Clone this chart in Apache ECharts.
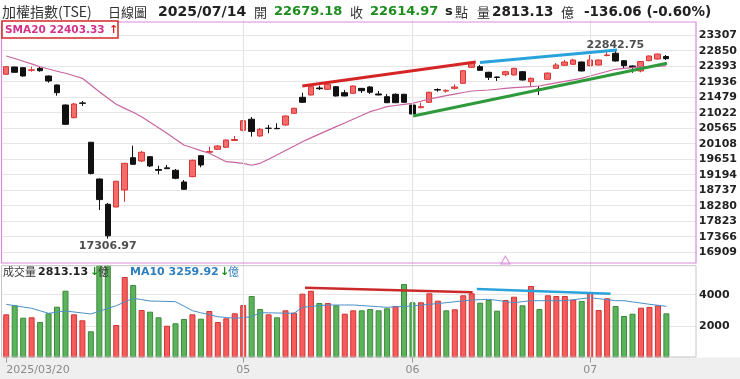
<!DOCTYPE html>
<html><head><meta charset="utf-8">
<script src="https://cdn.jsdelivr.net/npm/echarts@6/dist/echarts.min.js"></script>
<style>html,body{margin:0;padding:0;background:#fff}#c{width:740px;height:379px}</style>
</head><body><div id="c"></div>
<script>
// ---------- data ----------
const dates = [
 '2025/03/20','2025/03/21','2025/03/24','2025/03/25','2025/03/26','2025/03/27','2025/03/28','2025/03/31',
 '2025/04/01','2025/04/02','2025/04/07','2025/04/08','2025/04/09','2025/04/10','2025/04/11','2025/04/14',
 '2025/04/15','2025/04/16','2025/04/17','2025/04/18','2025/04/21','2025/04/22','2025/04/23','2025/04/24',
 '2025/04/25','2025/04/28','2025/04/29','2025/04/30',
 '2025/05/02','2025/05/05','2025/05/06','2025/05/07','2025/05/08','2025/05/09','2025/05/12','2025/05/13',
 '2025/05/14','2025/05/15','2025/05/16','2025/05/19','2025/05/20','2025/05/21','2025/05/22','2025/05/23',
 '2025/05/26','2025/05/27','2025/05/28','2025/05/29',
 '2025/06/02','2025/06/03','2025/06/04','2025/06/05','2025/06/06','2025/06/09','2025/06/10','2025/06/11',
 '2025/06/12','2025/06/13','2025/06/16','2025/06/17','2025/06/18','2025/06/19','2025/06/20','2025/06/23',
 '2025/06/24','2025/06/25','2025/06/26','2025/06/27','2025/06/30',
 '2025/07/01','2025/07/02','2025/07/03','2025/07/04','2025/07/07','2025/07/08','2025/07/09','2025/07/10',
 '2025/07/11','2025/07/14'
];
const opens = [22154,22369,22349,22270,22331,22104,21839,21249,20875,21310,20150,19068,18322,18242,18743,19696,
 19598,19725,19348,19396,19324,18979,19136,19755,19855,19943,20002,20203,20503,20830,20335,20565,20560,20660,
 21004,21476,21544,21750,21712,21789,21612,21594,21740,21780,21574,21494,21565,21565,21249,21170,21329,21705,
 21660,21740,21889,22360,22378,22213,22075,22143,22134,22231,21936,21720,22007,22331,22420,22449,22517,22408,
 22428,22705,22774,22555,22400,22252,22555,22605,22679.18];
const closes = [22378,22213,22104,22285,22260,21957,21612,20680,21279,21298,19232,18460,17392,19000,19529,19501,
 19855,19451,19322,19372,19088,18764,19619,19480,19880,20040,20217,20232,20786,20470,20533,20560,20550,20925,
 21152,21329,21789,21730,21860,21515,21515,21810,21670,21624,21545,21317,21317,21329,20984,21200,21624,21690,
 21680,21780,22260,22480,22272,22066,22060,22230,22330,21986,22036,21700,22190,22428,22517,22575,22252,22575,
 22575,22725,22546,22408,22355,22530,22694,22751.03,22614.97];
const lows = [22140,22200,22090,22231,22231,21907,21523,20670,20860,21220,19200,18154,17306.97,18230,18399,19480,
 19570,19420,19206,19360,19060,18750,19120,19413,19845,19930,19990,20195,20490,20315,20310,20415,20540,20640,
 20990,21310,21530,21691,21700,21500,21505,21580,21603,21574,21535,21305,21305,21315,20940,21150,21315,21641,
 21612,21700,21875,22340,22260,21986,21957,22100,22120,21970,21790,21544,21995,22310,22405,22435,22240,22395,
 22415,22690,22530,22330,22200,22213,22540,22590,22575];
const highs = [22395,22380,22360,22378,22378,22119,21854,21265,21308,21367,20160,19080,18360,19010,19540,20050,
 19893,19740,19460,19481,19363,19038,19640,19770,20020,20070,20230,20335,20800,20895,20572,20660,20710,20940,
 21165,21612,21800,21818,21898,21800,21691,21825,21750,21810,21662,21574,21594,21580,21260,21320,21641,21741,
 21712,21860,22275,22520,22430,22230,22090,22260,22345,22245,22060,21810,22205,22488,22575,22614,22530,22723,
 22590,22810,22842.75,22570,22415,22545,22710,22765,22723];
const ma20 = [22694,22620,22540,22460,22378,22310,22245,22184,22110,22036,21840,21641,21455,21270,21150,21034,
 20904,20740,20580,20415,20240,20070,19990,19905,19825,19700,19578,19555,19530,19472,19530,19650,19775,19905,
 20035,20167,20280,20390,20500,20610,20720,20830,20940,21052,21125,21199,21235,21270,21299,21360,21420,21476,
 21523,21570,21617,21662,21677,21691,21714,21737,21759,21776,21793,21809,21855,21900,21945,21990,22036,22103,
 22170,22236,22302,22327,22352,22378,22386,22395,22403.33];
const volumes = [2750,3325,2535,2560,2260,2815,3235,4255,2750,2370,1670,6300,6400,2070,5128,4618,3026,2918,2560,
 2026,2178,2452,2750,2472,2962,2260,2497,2815,3335,3918,3090,2750,2560,3005,2855,4065,4255,3470,3470,3325,2790,
 3005,3005,3090,3005,3134,3280,4682,3516,3516,4090,3618,3005,3070,3962,4090,3490,3663,2981,3663,3873,3325,4555,
 3090,3962,3918,3918,3682,3600,4090,3026,3771,3280,2644,2790,3172,3217,3325,2813.13];
// 1 = red bar, 0 = green bar (as coloured in the picture)
const volRed = [1,0,0,1,0,0,0,0,1,1,0,0,0,1,1,0,1,0,0,1,0,0,1,0,1,1,1,1,1,0,0,1,0,1,1,1,1,0,1,0,1,1,0,0,0,0,1,0,
 0,1,1,1,0,1,1,1,0,0,0,1,1,0,1,0,1,1,1,1,0,1,1,1,0,0,0,1,1,1,0];
const ma10 = [3389,3300,3215,3134,2975,2815,2890,2962,2900,2835,2771,2950,3125,3300,3535,3771,3685,3599,3585,3570,
 3554,3270,2981,2850,2725,2599,2550,2497,2540,2599,2854,2845,2835,2825,2815,3198,3250,3300,3344,3344,3344,3344,
 3310,3270,3235,3198,3225,3255,3281,3335,3385,3440,3491,3550,3605,3663,3685,3707,3640,3565,3491,3555,3618,3618,
 3618,3618,3618,3680,3745,3809,3745,3680,3618,3618,3540,3465,3389,3325,3259.92];
const xTickLabels = {'2025/03/20':'2025/03/20','2025/05/02':'05','2025/06/02':'06','2025/07/01':'07'};
const monthLines = ['2025/05/02','2025/06/02','2025/07/01'];
const priceAxis = {min:16452, max:23764, interval:457};
const volAxis = {min:0, max:5847, interval:2000};
// trend lines: [dayIndex, value]
const priceTrends = [
 {color:'#d42424', pts:[[35,21809],[55.5,22517]]},
 {color:'#2aa3dc', pts:[[56,22502],[72.2,22870]]},
 {color:'#2e9a3c', pts:[[48.1,20924],[78.1,22480]]}
];
const volTrends = [
 {color:'#cc2a2a', pts:[[35.3,4446],[55.1,4153]]},
 {color:'#2aa3dc', pts:[[55.6,4363],[71.4,4064]]}
];
const markerTriangle = [[59,16680]];
const pad = ['+1','+2','+3'];

// ---------- build ----------
const cats = dates.concat(pad);
const N = dates.length;
const last = N - 1;
const candle = dates.map((d,i)=>[opens[i],closes[i],lows[i],highs[i]]);
let minI = 0, maxI = 0;
lows.forEach((v,i)=>{ if(v<lows[minI]) minI=i; });
highs.forEach((v,i)=>{ if(v>highs[maxI]) maxI=i; });
const volData = volumes.map((v,i)=>({value:v, itemStyle: volRed[i]
  ? {color:'#f65c5c', borderColor:'#cf3434', borderWidth:1}
  : {color:'#5cb35c', borderColor:'#3b8a3b', borderWidth:1}}));
const showIdx = (i)=> xTickLabels[cats[i]] !== undefined;
const chg = closes[last]-closes[last-1];
const chgPct = chg/closes[last-1]*100;

const CJK = '"Noto Sans CJK TC"';
const DV = '"DejaVu Sans"';
function T(x,y,text,font,fill){
  return {type:'text', x:x, y:y, z:200, silent:true,
    style:{text:text, font:font, fill:fill, verticalAlign:'middle', align:'left'}};
}
const plain = (v)=>String(Math.round(v));

const option = {
  animation:false,
  backgroundColor:'#ffffff',
  grid:[
    {left:2, right:44, top:19.7, height:248},
    {left:2, right:44, top:265.7, height:91.8}
  ],
  xAxis:[
    {type:'category', gridIndex:0, data:cats, boundaryGap:true,
      axisLine:{show:false}, axisTick:{show:false}, axisLabel:{show:false}, splitLine:{show:false}},
    {type:'category', gridIndex:1, data:cats, boundaryGap:true,
      axisLine:{show:false},
      axisTick:{show:true, alignWithLabel:true, interval:(i)=>showIdx(i), length:5, lineStyle:{color:'#999'}},
      axisLabel:{show:true, interval:(i)=>showIdx(i), formatter:(v)=>xTickLabels[v]||'',
        color:'#8a8a8a', fontSize:11, fontFamily:'DejaVu Sans', margin:7, alignMinLabel:'left'},
      splitLine:{show:false}},
    {type:'value', gridIndex:0, min:-0.5, max:cats.length-0.5, show:false},
    {type:'value', gridIndex:1, min:-0.5, max:cats.length-0.5, show:false}
  ],
  yAxis:[
    {type:'value', gridIndex:0, position:'right', min:priceAxis.min, max:priceAxis.max, interval:priceAxis.interval,
      axisLine:{show:false}, axisTick:{show:false},
      axisLabel:{showMinLabel:false, showMaxLabel:false, color:'#222', fontSize:11, fontWeight:'bold',
        fontFamily:'DejaVu Sans', margin:3, formatter:plain},
      splitLine:{show:true, showMinLine:false, showMaxLine:false, lineStyle:{color:'#e6e6e6', width:1}}},
    {type:'value', gridIndex:1, position:'right', min:volAxis.min, max:volAxis.max, interval:volAxis.interval,
      axisLine:{show:false}, axisTick:{show:false},
      axisLabel:{showMinLabel:false, showMaxLabel:false, color:'#222', fontSize:11, fontWeight:'bold',
        fontFamily:'DejaVu Sans', margin:3, formatter:plain},
      splitLine:{show:true, showMinLine:false, showMaxLine:false, lineStyle:{color:'#e6e6e6', width:1}}}
  ],
  series:[
    {type:'line', xAxisIndex:0, yAxisIndex:0, data:[], z:1, silent:true,
      markLine:{silent:true, symbol:'none', label:{show:false}, animation:false,
        lineStyle:{color:'#e2e2e2', width:1, type:'solid'}, data:monthLines.map(d=>({xAxis:d}))}},
    {type:'line', xAxisIndex:1, yAxisIndex:1, data:[], z:1, silent:true,
      markLine:{silent:true, symbol:'none', label:{show:false}, animation:false,
        lineStyle:{color:'#e2e2e2', width:1, type:'solid'}, data:monthLines.map(d=>({xAxis:d}))}},
    {type:'candlestick', xAxisIndex:0, yAxisIndex:0, data:candle, barWidth:6, z:3,
      itemStyle:{color:'#f46b6b', color0:'#111111', borderColor:'#d93434', borderColor0:'#111111', borderWidth:1}},
    {type:'line', xAxisIndex:0, yAxisIndex:0, data:ma20, symbol:'none', z:4, silent:true,
      lineStyle:{color:'#c8649e', width:1.2}},
    ...priceTrends.map(t=>({type:'line', xAxisIndex:2, yAxisIndex:0, data:t.pts, symbol:'none', z:5, silent:true,
      lineStyle:{color:t.color, width:3}})),
    {type:'scatter', xAxisIndex:2, yAxisIndex:0, symbolSize:1, z:6, silent:true,
      itemStyle:{color:'rgba(0,0,0,0)'},
      data:[{value:[minI, lows[minI]], label:{position:'bottom', distance:1}},
            {value:[maxI, highs[maxI]], label:{position:'top', distance:0}}],
      label:{show:true, formatter:(p)=>p.value[1].toFixed(2), color:'#222', fontSize:11, fontWeight:'bold',
        fontFamily:'DejaVu Sans'}},
    {type:'scatter', xAxisIndex:2, yAxisIndex:0, symbol:'triangle', symbolSize:[9,8], z:6, silent:true,
      itemStyle:{color:'#ffffff', borderColor:'#d27ad2', borderWidth:1}, data:markerTriangle},
    {type:'bar', xAxisIndex:1, yAxisIndex:1, data:volData, barWidth:6, clip:true, z:3},
    {type:'line', xAxisIndex:1, yAxisIndex:1, data:ma10, symbol:'none', z:4, silent:true,
      lineStyle:{color:'#4a8fc8', width:1}},
    ...volTrends.map(t=>({type:'line', xAxisIndex:3, yAxisIndex:1, data:t.pts, symbol:'none', z:5, silent:true,
      lineStyle:{color:t.color, width:2.5}}))
  ],
  graphic:[
    {type:'rect', z:-10, silent:true, shape:{x:0, y:357.5, width:740, height:22}, style:{fill:'#efefef'}},
    {type:'rect', z:150, silent:true, shape:{x:1.5, y:22, width:694.5, height:241}, style:{fill:'none', stroke:'#d98ad9', lineWidth:1.2}},
    {type:'rect', z:150, silent:true, shape:{x:1.5, y:265.7, width:694.5, height:91.3}, style:{fill:'none', stroke:'#c6c6c6', lineWidth:1}},
    {type:'rect', z:160, silent:true, shape:{x:2, y:21, width:116, height:17}, style:{fill:'#ffffff', stroke:'#d42a2a', lineWidth:1.5}},
    T(5, 30, 'SMA20 ' + ma20[last].toFixed(2), 'bold 10.5px '+DV, '#d4318a'),
    T(109, 30, '↑', 'bold 11px '+DV, '#e02020'),
    // header
    T(2, 12, '加權指數(TSE)', '14px '+CJK, '#333'),
    T(108, 12, '日線圖', '13px '+CJK, '#333'),
    T(158, 12, dates[last], 'bold 14px '+DV, '#222'),
    T(254, 12, '開', '13px '+CJK, '#333'),
    T(274, 12, opens[last].toFixed(2), 'bold 13px '+DV, '#1e8c1e'),
    T(350, 12, '收', '13px '+CJK, '#333'),
    T(370, 12, closes[last].toFixed(2), 'bold 13px '+DV, '#1e8c1e'),
    T(445, 12, 's', 'bold 13px '+DV, '#222'),
    T(455, 12, '點', '13px '+CJK, '#333'),
    T(477, 12, '量', '13px '+CJK, '#333'),
    T(492, 12, volumes[last].toFixed(2), 'bold 13.5px '+DV, '#222'),
    T(561, 12, '億', '13px '+CJK, '#333'),
    T(584, 12, chg.toFixed(2) + ' (' + chgPct.toFixed(2) + '%)', 'bold 13.5px '+DV, '#222'),
    // volume header
    T(3, 272, '成交量', '11px '+CJK, '#333'),
    T(38, 272, volumes[last].toFixed(2), 'bold 11px '+DV, '#222'),
    T(90, 272, '↓', 'bold 11px '+DV, '#1e8c1e'),
    T(98, 272, '億', '11px '+CJK, '#333'),
    T(130, 272, 'MA10 ' + ma10[last].toFixed(2), 'bold 11px '+DV, '#2f7fbe'),
    T(220, 272, '↓', 'bold 11px '+DV, '#1e8c1e'),
    T(228, 272, '億', '11px '+CJK, '#2f7fbe')
  ]
};
const chart = echarts.init(document.getElementById('c'), null, {renderer:'canvas'});
chart.setOption(option);
</script>
</body></html>
